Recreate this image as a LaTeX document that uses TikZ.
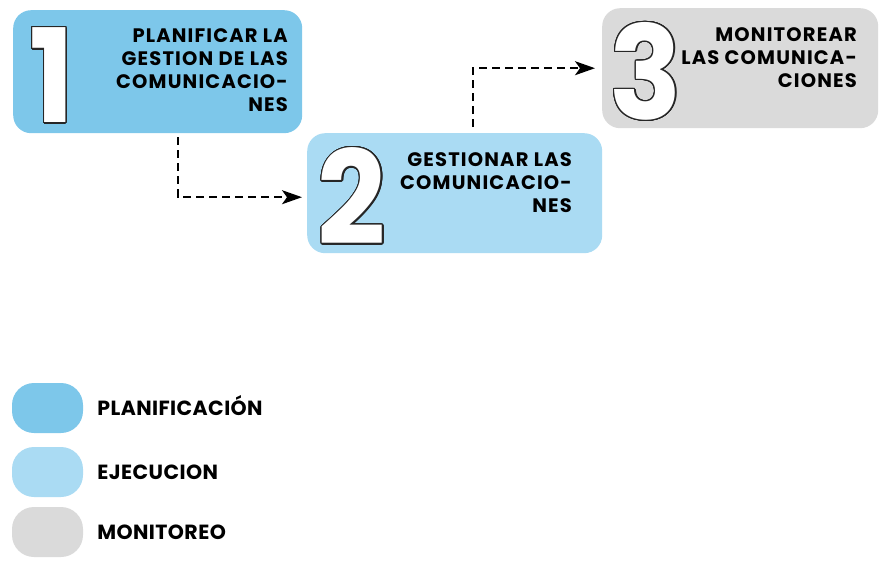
\documentclass[tikz,border=0pt]{standalone}
\usepackage{fontspec}
\setmainfont{Poppins}
\usepackage{contour}
\contourlength{1.3pt}
\contournumber{24}
\usetikzlibrary{arrows.meta,positioning}
\definecolor{planblue}{RGB}{125,199,234}
\definecolor{ejecblue}{RGB}{170,219,243}
\definecolor{monigray}{RGB}{218,218,218}
\newcommand{\hollow}[1]{\scalebox{0.92}[1]{\contour{black!85}{#1}}}
\tikzset{
  procbox/.style={rectangle, rounded corners=18pt, inner sep=0pt, anchor=north west},
  bignum/.style={inner sep=0pt, text=white, font=\fontsize{130}{130}\selectfont\bfseries},
  boxtext/.style={inner sep=0pt, align=right, anchor=north east, font=\addfontfeatures{LetterSpace=6}\fontsize{19.5}{23.3}\selectfont\bfseries},
  flow/.style={dash pattern=on 8pt off 5pt, line width=1.8pt, -{Stealth[length=20pt,width=14pt,inset=5pt]}},
  legpill/.style={rectangle, rounded corners=22pt, minimum width=71pt, minimum height=50pt, inner sep=0pt},
  legtext/.style={inner sep=0pt, anchor=base west, font=\addfontfeatures{LetterSpace=2}\fontsize{20.5}{24}\selectfont\bfseries}
}
\begin{document}
\begin{tikzpicture}[x=1pt,y=-1pt]
  \useasboundingbox (0,0) rectangle (880,560);
  % etapas
  \node[procbox, fill=planblue, minimum width=289pt, minimum height=123pt] (box1) at (13,10) {};
  \node[procbox, fill=ejecblue, minimum width=295pt, minimum height=120pt] (box2) at (307,133) {};
  \node[procbox, fill=monigray, minimum width=276pt, minimum height=120pt] (box3) at (602,8) {};

  % numeros
  \node[bignum] (num1) at (52,76) {\hollow{1}};
  \node[bignum] (num2) at (352,197) {\hollow{2}};
  \node[bignum] (num3) at (646,72) {\hollow{3}};

  % textos
  \node[boxtext] (txt1) at (288,28) {PLANIFICAR LA\\GESTION DE LAS\\COMUNICACIO-\\NES};
  \node[boxtext] (txt2) at (572,152) {GESTIONAR LAS\\COMUNICACIO-\\NES};
  \node[boxtext] (txt3) at (857,27) {MONITOREAR\\LAS COMUNICA-\\CIONES};

  % flujo
  \draw[flow] ([xshift=165pt,yshift=-4pt]box1.south west) |- ([xshift=-5pt,yshift=-4pt]box2.west);
  \draw[flow] ([xshift=166pt,yshift=6pt]box2.north west) |- ([xshift=-7pt]box3.west);

  % leyenda
  \foreach \n/\y/\col/\txt in {1/408/planblue/PLANIFICACIÓN,2/472/ejecblue/EJECUCION,3/532/monigray/MONITOREO}{
    \node[legpill, fill=\col] (leg\n) at (47.5,\y) {};
    \node[legtext] (lab\n) at ([xshift=14pt,yshift=-7pt]leg\n.east) {\txt};
  }
\end{tikzpicture}
\end{document}
